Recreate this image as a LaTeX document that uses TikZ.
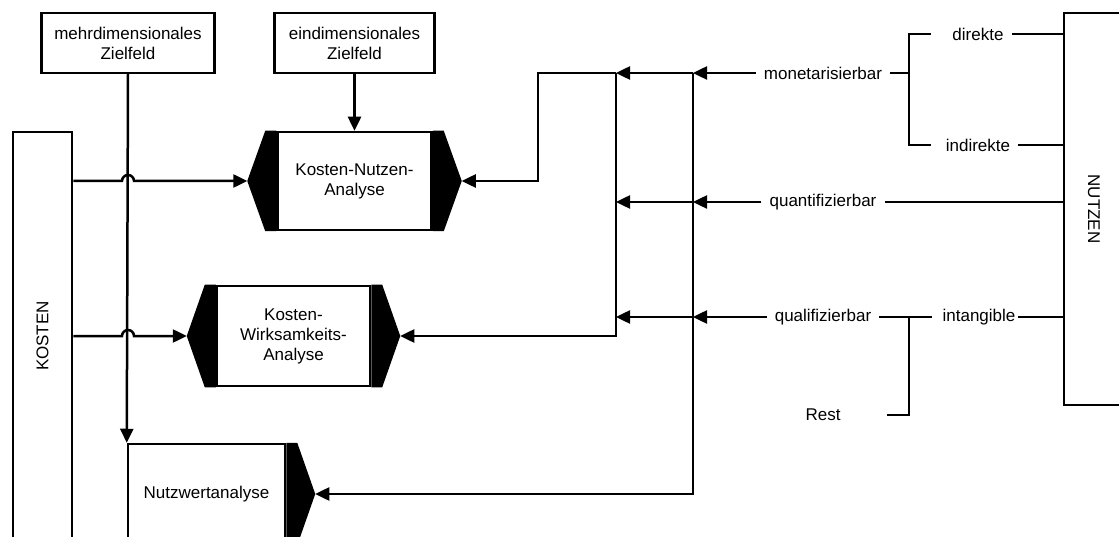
\documentclass[tikz,border=0pt]{standalone}
\usepackage{fontspec}
\setmainfont{Liberation Sans}
\usetikzlibrary{arrows.meta,calc}

% black side wings of the analysis boxes
\newcommand{\lwing}[1]{%
  \fill ([xshift=-11pt]#1.north west) -- (#1.north west) -- (#1.south west)
    -- ([xshift=-11pt]#1.south west) -- ([xshift=-29pt]#1.west) coordinate (#1-l) -- cycle;}
\newcommand{\rwing}[1]{%
  \fill ([xshift=11pt]#1.north east) -- (#1.north east) -- (#1.south east)
    -- ([xshift=11pt]#1.south east) -- ([xshift=29pt]#1.east) coordinate (#1-r) -- cycle;}

\begin{document}
\begin{tikzpicture}[
  x=1pt, y=-1pt,
  line width=2.5pt,
  font=\fontsize{17}{20}\selectfont,
  box/.style={draw,fill=white,align=center,inner sep=0pt},
  lbl/.style={inner sep=7pt},
  arr/.style={-{Triangle[length=14pt,width=13pt]}}
]
\useasboundingbox (0,0) rectangle (1119,537);
\clip (0,0) rectangle (1119,537);

% left: targets, costs and the three methods
\node[box,minimum width=173pt,minimum height=60pt] (mehr) at (128,43) {mehrdimensionales\\Zielfeld};
\node[box,minimum width=160pt,minimum height=60pt] (ein) at (354.5,43) {eindimensionales\\Zielfeld};
\node[box,minimum width=59pt,minimum height=408pt] (kosten) at (42.5,336) {\rotatebox{90}{KOSTEN}};
\node[box,minimum width=154pt,minimum height=98pt] (kna) at (354.5,181) {Kosten-Nutzen-\\Analyse};
\node[box,minimum width=153pt,minimum height=100pt] (kwa) at (293.5,336) {Kosten-\\Wirksamkeits-\\Analyse};
\node[box,minimum width=157pt,minimum height=100pt] (nwa) at (206.5,494) {Nutzwertanalyse};
\lwing{kna}
\rwing{kna}
\lwing{kwa}
\rwing{kwa}
\rwing{nwa}

% right: benefits
\node[box,minimum width=60pt,minimum height=392pt] (nutzen) at (1094,209) {\rotatebox{-90}{NUTZEN}};
\node[lbl] (mon) at (823,73) {monetarisierbar};
\node[lbl] (quant) at (823,202) {quantifizierbar};
\node[lbl] (qual) at (823,317) {qualifizierbar};
\node[lbl] (rest) at (823,415) {Rest};
\node[lbl] (dir) at (978,34) {direkte};
\node[lbl] (indir) at (978,145) {indirekte};
\node[lbl,inner sep=1pt] (intang) at (979,317) {intangible};

\coordinate (c0) at (538,73);
\coordinate (c1) at (616,73);
\coordinate (c2) at (693,73);
\coordinate (bx) at (909,0);
\coordinate (b1) at (931,34);
\coordinate (b2) at (931,145);
\coordinate (b3) at (887,415);

% costs into the methods (with hops over the target line)
\draw[arr] (mehr.south) -- (nwa.north west);
\draw[arr] (ein.south) -- (kna.north);
\draw[arr] (kosten.east |- kna-l) -- ([xshift=-6pt]mehr.south |- kna-l)
  arc[start angle=180,end angle=0,radius=6pt] -- (kna-l);
\draw[arr] (kosten.east |- kwa-l) -- ([xshift=-6pt]mehr.south |- kwa-l)
  arc[start angle=180,end angle=0,radius=6pt] -- (kwa-l);

% benefits into the methods
\draw[arr] (mon.west) -- (c2);
\draw[arr] (c2) -- (c1);
\draw[arr] (c1) -- (c0) |- (kna-r);
\draw[arr] (c1) |- (kwa-r);
\draw[arr] (c2) |- (nwa-r);
\draw[arr] (quant.west) -- (c2 |- quant);
\draw[arr] (c2 |- quant) -- (c1 |- quant);
\draw[arr] (qual.west) -- (c2 |- qual);
\draw[arr] (c2 |- qual) -- (c1 |- qual);

% brackets and links to NUTZEN
\draw (mon.east) -- (bx |- mon);
\draw (b1) -| (bx |- b2) -- (b2);
\draw (dir.east) -- (nutzen.west |- dir);
\draw (indir.east) -- (nutzen.west |- indir);
\draw (quant.east) -- (nutzen.west |- quant);
\draw (qual.east) -- ([xshift=-8pt]intang.west);
\draw (bx |- qual) |- (b3);
\draw (intang.east) -- (nutzen.west |- intang);
\end{tikzpicture}
\end{document}
